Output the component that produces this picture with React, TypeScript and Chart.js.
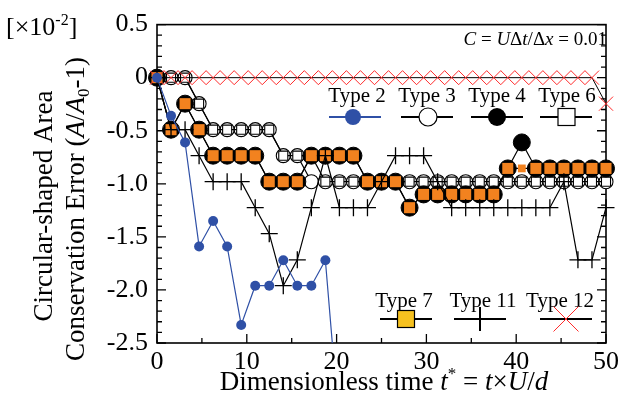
import React, { useEffect, useRef } from 'react';
import { Chart, registerables } from 'chart.js';
Chart.register(...registerables);

const FONT = '"Liberation Serif", "Times New Roman", serif';

// Dimensionless time t* of each output
const times = [0, 1.5625, 3.125, 4.6875, 6.25, 7.8125, 9.375, 10.9375, 12.5, 14.0625, 15.625, 17.1875, 18.75, 20.3125, 21.875, 23.4375, 25, 26.5625, 28.125, 29.6875, 31.25, 32.8125, 34.375, 35.9375, 37.5, 39.0625, 40.625, 42.1875, 43.75, 45.3125, 46.875, 48.4375, 50];

// Area conservation error [x10^-2]
const type2 = [0, -0.36, -0.61, -1.59, -1.35, -1.59, -2.33, -1.96, -1.96, -1.72, -1.96, -1.96, -1.72, -3.3];
const type3 = [0, 0, 0, -0.245, -0.49, -0.49, -0.49, -0.49, -0.49, -0.735, -0.735, -0.98, -0.98, -0.98, -0.98, -0.98, -0.98, -0.98, -0.98, -0.98, -0.98, -0.98, -0.98, -0.98, -0.98, -0.98, -0.98, -0.98, -0.98, -0.98, -0.98, -0.98, -0.98];
const type4 = [0, -0.49, -0.245, -0.49, -0.735, -0.735, -0.735, -0.735, -0.98, -0.98, -0.98, -0.735, -0.735, -0.735, -0.735, -0.98, -0.98, -0.98, -1.225, -1.1, -1.1, -1.1, -1.1, -1.1, -1.1, -0.855, -0.61, -0.855, -0.855, -0.855, -0.855, -0.855, -0.855];
const type6 = [0, 0, 0, -0.245, -0.49, -0.49, -0.49, -0.49, -0.49, -0.735, -0.735, -0.735, -0.98, -0.98, -0.98, -0.98, -0.98, -0.98, -0.98, -0.98, -0.98, -0.98, -0.98, -0.98, -0.98, -0.98, -0.98, -0.98, -0.98, -0.98, -0.98, -0.98, -0.98];
const type7 = [0, -0.49, -0.245, -0.49, -0.735, -0.735, -0.735, -0.735, -0.98, -0.98, -0.98, -0.735, -0.735, -0.735, -0.735, -0.98, -0.98, -0.98, -1.225, -1.1, -1.1, -1.1, -1.1, -1.1, -1.1, -0.855, -0.855, -0.855, -0.855, -0.855, -0.855, -0.855, -0.855];
const type11 = [0, -0.49, -0.49, -0.735, -0.98, -0.98, -0.98, -1.225, -1.47, -1.96, -1.716, -1.225, -0.735, -1.225, -1.225, -1.225, -0.98, -0.735, -0.735, -0.735, -0.98, -1.225, -1.225, -1.225, -1.225, -1.225, -1.225, -1.225, -1.225, -0.98, -1.716, -1.716, -1.225];
const type12 = [0, 0, 0, 0, 0, 0, 0, 0, 0, 0, 0, 0, 0, 0, 0, 0, 0, 0, 0, 0, 0, 0, 0, 0, 0, 0, 0, 0, 0, 0, 0, 0, -0.245];

const yTicks = [0.5, 0, -0.5, -1.0, -1.5, -2.0, -2.5];
const xTicks = [0, 10, 20, 30, 40, 50];

const seriesNames = ['Type 2', 'Type 3', 'Type 4', 'Type 6', 'Type 7', 'Type 11', 'Type 12'];

const BLUE = '#2f50a6';
const ORANGE = '#f2821f';
const YELLOW = '#f6c11f';
const RED = '#ff2b2b';

type Seg = { t: string; it?: boolean; sup?: boolean; sub?: boolean };

function drawRich(ctx: CanvasRenderingContext2D, segs: Seg[], x: number, y: number, size: number, align: 'left' | 'center' | 'right') {
  const fontFor = (s: Seg) => `${s.it ? 'italic ' : ''}${s.sup || s.sub ? Math.round(size * 0.62) : size}px ${FONT}`;
  const widths = segs.map((s) => { ctx.font = fontFor(s); return ctx.measureText(s.t).width; });
  const total = widths.reduce((a, b) => a + b, 0);
  let cx = align === 'center' ? x - total / 2 : align === 'right' ? x - total : x;
  ctx.textAlign = 'left';
  ctx.textBaseline = 'alphabetic';
  segs.forEach((s, i) => {
    ctx.font = fontFor(s);
    const dy = s.sup ? -size * 0.4 : s.sub ? size * 0.2 : 0;
    ctx.fillText(s.t, cx, y + dy);
    cx += widths[i];
  });
}

const framePlugin = {
  id: 'frameTicks',
  beforeDatasetsDraw(chart: any) {
    const ctx: CanvasRenderingContext2D = chart.ctx;
    const { left, right, top, bottom } = chart.chartArea;
    const xs = chart.scales.x, ys = chart.scales.y;
    ctx.save();
    ctx.strokeStyle = '#000';
    ctx.lineWidth = 1.6;
    ctx.strokeRect(left, top, right - left, bottom - top);
    ctx.lineWidth = 1.3;
    ctx.beginPath();
    for (let k = -25; k <= 5; k++) {
      const py = ys.getPixelForValue(k / 10);
      const L = k % 5 === 0 ? 9 : 5;
      ctx.moveTo(left, py); ctx.lineTo(left + L, py);
      ctx.moveTo(right, py); ctx.lineTo(right - L, py);
    }
    for (let k = 0; k <= 10; k++) {
      const px = xs.getPixelForValue(k * 5);
      const L = k % 2 === 0 ? 9 : 5;
      ctx.moveTo(px, bottom); ctx.lineTo(px, bottom - L);
    }
    ctx.stroke();
    ctx.restore();
  },
};

const annotPlugin = {
  id: 'annot',
  afterDraw(chart: any) {
    const ctx: CanvasRenderingContext2D = chart.ctx;
    ctx.save();
    ctx.fillStyle = '#000';
    // unit label
    drawRich(ctx, [{ t: '[\u00d710' }, { t: '-2', sup: true }, { t: ']' }], 6, 35, 26, 'left');
    // Courant number
    drawRich(ctx, [{ t: 'C', it: true }, { t: ' = ' }, { t: 'U', it: true }, { t: '\u0394' }, { t: 't', it: true }, { t: '/\u0394' }, { t: 'x', it: true }, { t: ' = 0.01' }], 607, 45, 19, 'right');
    // x title
    drawRich(ctx, [{ t: 'Dimensionless time ' }, { t: 't', it: true }, { t: '*', sup: true }, { t: ' = ' }, { t: 't', it: true }, { t: '\u00d7' }, { t: 'U', it: true }, { t: '/' }, { t: 'd', it: true }], 384, 390, 27, 'center');
    // y title (two lines, rotated)
    ctx.save();
    ctx.translate(52, 206);
    ctx.rotate(-Math.PI / 2);
    drawRich(ctx, [{ t: 'Circular-shaped Area' }], 0, 0, 27, 'center');
    ctx.restore();
    ctx.save();
    ctx.translate(84, 209);
    ctx.rotate(-Math.PI / 2);
    drawRich(ctx, [{ t: 'Conservation Error (' }, { t: 'A', it: true }, { t: '/' }, { t: 'A', it: true }, { t: '0', sub: true }, { t: '-1)' }], 0, 0, 27, 'center');
    ctx.restore();

    // legend
    const line = (cx: number, cy: number, color: string) => {
      ctx.strokeStyle = color; ctx.lineWidth = 2;
      ctx.beginPath(); ctx.moveTo(cx - 26, cy); ctx.lineTo(cx + 26, cy); ctx.stroke();
    };
    const label = (t: string, cx: number, by: number) => {
      ctx.fillStyle = '#000';
      drawRich(ctx, [{ t }], cx, by, 21, 'center');
    };
    const r1 = 117, r2 = 319;
    label(seriesNames[0], 357, 102); line(355, r1, BLUE);
    ctx.fillStyle = BLUE; ctx.beginPath(); ctx.arc(353, r1, 8, 0, Math.PI * 2); ctx.fill();
    label(seriesNames[1], 427, 102); line(427, r1, '#000');
    ctx.fillStyle = '#fff'; ctx.strokeStyle = '#000'; ctx.lineWidth = 1.2;
    ctx.beginPath(); ctx.arc(428, r1, 9, 0, Math.PI * 2); ctx.fill(); ctx.stroke();
    label(seriesNames[2], 497, 102); line(497, r1, '#000');
    ctx.fillStyle = '#000'; ctx.beginPath(); ctx.arc(497, r1, 9, 0, Math.PI * 2); ctx.fill();
    label(seriesNames[3], 567, 102); line(566, r1, '#000');
    ctx.fillStyle = '#fff'; ctx.strokeStyle = '#000'; ctx.lineWidth = 1.2;
    ctx.fillRect(558, r1 - 8.5, 17, 17); ctx.strokeRect(558, r1 - 8.5, 17, 17);
    label(seriesNames[4], 404, 307); line(406, r2, '#000');
    ctx.fillStyle = YELLOW; ctx.strokeStyle = '#000'; ctx.lineWidth = 1.2;
    ctx.fillRect(397.5, r2 - 8.5, 17, 17); ctx.strokeRect(397.5, r2 - 8.5, 17, 17);
    label(seriesNames[5], 483, 307); line(480, r2, '#000');
    ctx.strokeStyle = '#000'; ctx.lineWidth = 2;
    ctx.beginPath(); ctx.moveTo(480, r2 - 12); ctx.lineTo(480, r2 + 12); ctx.stroke();
    label(seriesNames[6], 560, 307); line(566, r2, '#000');
    ctx.strokeStyle = RED; ctx.lineWidth = 1;
    ctx.beginPath(); ctx.moveTo(553.5, r2 - 12.5); ctx.lineTo(578.5, r2 + 12.5); ctx.moveTo(578.5, r2 - 12.5); ctx.lineTo(553.5, r2 + 12.5); ctx.stroke();
    ctx.restore();
  },
};

const mk = (vals: number[]) => vals.map((y, i) => ({ x: times[i], y }));

export default function App() {
  const ref = useRef<HTMLCanvasElement | null>(null);
  useEffect(() => {
    if (!ref.current) return;
    const chart = new Chart(ref.current, {
      type: 'line',
      data: {
        datasets: [
          { label: seriesNames[0], data: mk(type2), order: 0, borderColor: BLUE, borderWidth: 1.2, pointStyle: 'circle', pointRadius: 5, pointBackgroundColor: BLUE, pointBorderColor: BLUE, pointBorderWidth: 0, clip: { left: 10, top: 10, right: 10, bottom: 0 } as any },
          { label: seriesNames[5], data: mk(type11), order: 1, borderColor: '#000', borderWidth: 1.2, pointStyle: 'cross', pointRadius: 8.5, pointBorderColor: '#000', pointBorderWidth: 1.3, clip: false as any },
          { label: seriesNames[6], data: mk(type12), order: 2, borderColor: '#000', borderWidth: 1, pointStyle: 'crossRot', pointRadius: 10, pointBorderColor: RED, pointBorderWidth: 1, clip: false as any },
          { label: seriesNames[4], data: mk(type7), order: 3, borderColor: '#000', borderWidth: 1.2, pointStyle: 'rect', pointRadius: type7.map((_, i) => (type7[i] !== type4[i] ? 5.5 : 7.8)), pointBackgroundColor: ORANGE, pointBorderWidth: 0, clip: false as any },
          { label: seriesNames[2], data: mk(type4), order: 4, borderColor: '#000', borderWidth: 1.2, pointStyle: 'circle', pointRadius: 8.5, pointBackgroundColor: '#000', pointBorderColor: '#000', pointBorderWidth: 1, clip: false as any },
          { label: seriesNames[3], data: mk(type6), order: 5, borderColor: '#000', borderWidth: 1.2, pointStyle: 'rect', pointRadius: 6.4, pointBackgroundColor: '#fff', pointBorderColor: '#000', pointBorderWidth: 1.1, clip: false as any },
          { label: seriesNames[1], data: mk(type3), order: 6, borderColor: '#000', borderWidth: 1.2, pointStyle: 'circle', pointRadius: 7, pointBackgroundColor: '#fff', pointBorderColor: '#000', pointBorderWidth: 1.1, clip: false as any },
        ],
      },
      options: {
        responsive: false,
        animation: false,
        events: [],
        layout: { padding: { left: 0, right: 12, top: 18, bottom: 0 } },
        plugins: { legend: { display: false }, tooltip: { enabled: false } },
        scales: {
          x: {
            type: 'linear', min: 0, max: 50,
            grid: { display: false, drawTicks: false },
            border: { display: false },
            afterBuildTicks: (s: any) => { s.ticks = xTicks.map((v) => ({ value: v })); },
            ticks: { color: '#000', padding: 4, maxRotation: 0, font: { family: FONT, size: 26 }, callback: (v: any) => String(v) },
            afterFit: (s: any) => { s.height = 55; },
          },
          y: {
            type: 'linear', min: -2.5, max: 0.5,
            grid: { display: false, drawTicks: false },
            border: { display: false },
            afterBuildTicks: (s: any) => { s.ticks = yTicks.map((v) => ({ value: v })); },
            ticks: { color: '#000', padding: 9, font: { family: FONT, size: 26 }, callback: (v: any) => (Math.abs(Number(v)) < 1e-9 ? '0' : Number(v).toFixed(1)) },
            afterFit: (s: any) => { s.width = 157; },
          },
        },
      },
      plugins: [framePlugin, annotPlugin],
    });
    return () => chart.destroy();
  }, []);
  return (
    <div style={{ position: 'absolute', left: 0, top: 0, width: 623, height: 398, background: '#fff' }}>
      <canvas ref={ref} width={623} height={398} style={{ display: 'block' }} />
    </div>
  );
}
